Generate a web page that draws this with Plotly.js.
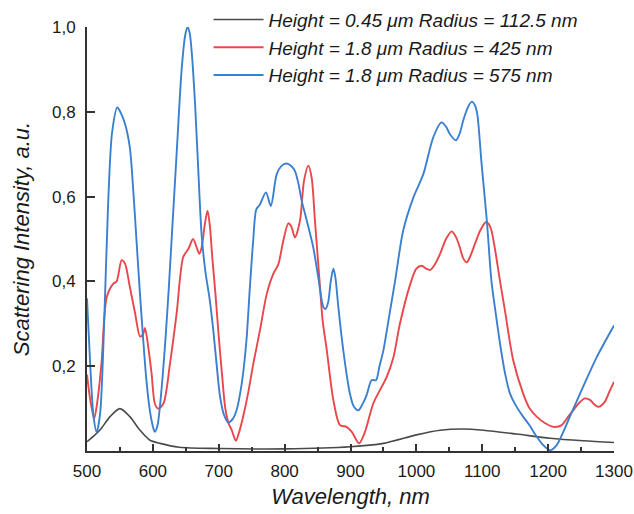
<!DOCTYPE html>
<html>
<head>
<meta charset="utf-8">
<script src="https://cdn.plot.ly/plotly-3.0.1.min.js"></script>
<style>
  html, body { margin: 0; padding: 0; background: #ffffff; }
  #chart { width: 634px; height: 514px; }
</style>
</head>
<body>
<div id="chart"></div>
<script>
// ---- Series names ----
const seriesNames = [
  "Height = 0.45 \u03bcm Radius = 112.5 nm",
  "Height = 1.8 \u03bcm Radius = 425 nm",
  "Height = 1.8 \u03bcm Radius = 575 nm"
];

// ---- Black series: Height 0.45 um, Radius 112.5 nm ----
const wlBlack = [500, 510, 520, 535, 550, 565, 580, 595, 611, 640, 700, 800, 900, 950, 1000, 1036, 1071, 1102, 1152, 1203, 1253, 1300];
const intBlack = [0.022, 0.035, 0.05, 0.081, 0.10, 0.081, 0.05, 0.026, 0.018, 0.009, 0.006, 0.005, 0.01, 0.018, 0.038, 0.049, 0.052, 0.049, 0.04, 0.03, 0.024, 0.02];

// ---- Red series: Height 1.8 um, Radius 425 nm ----
const wlRed = [500, 505, 511, 516, 522, 530, 540, 545, 552.6, 557.7, 565, 573, 580.5, 585, 588, 593, 598, 603, 608, 616, 626, 636, 646, 654, 661, 666.5, 670.5, 674, 679, 683, 686.7, 690, 695, 700, 705, 710, 715, 719.6, 726, 731, 737, 745, 752.5, 762.6, 772.8, 782.8, 790.4, 798, 805.6, 810, 815.7, 823.4, 829.4, 836, 841, 846, 853.7, 857.7, 864, 874, 884, 894, 902, 913, 922, 934.6, 955, 965, 975, 990, 1000, 1008, 1015, 1021, 1028, 1036, 1045, 1053.6, 1060, 1066, 1071, 1076.4, 1082, 1089, 1097, 1105.7, 1110, 1114, 1120, 1127, 1134.6, 1147, 1162, 1172, 1182.6, 1195, 1208, 1220.6, 1230, 1238, 1248, 1256, 1264, 1270, 1276, 1286, 1293, 1300];
const intRed = [0.18, 0.12, 0.077, 0.12, 0.207, 0.363, 0.395, 0.40, 0.45, 0.442, 0.387, 0.325, 0.27, 0.275, 0.29, 0.245, 0.183, 0.112, 0.10, 0.112, 0.206, 0.324, 0.457, 0.477, 0.50, 0.48, 0.465, 0.48, 0.536, 0.567, 0.528, 0.46, 0.37, 0.27, 0.18, 0.10, 0.065, 0.05, 0.024, 0.045, 0.081, 0.14, 0.206, 0.285, 0.37, 0.418, 0.44, 0.496, 0.537, 0.53, 0.504, 0.544, 0.637, 0.673, 0.645, 0.544, 0.387, 0.308, 0.238, 0.12, 0.061, 0.057, 0.045, 0.018, 0.045, 0.112, 0.175, 0.22, 0.30, 0.39, 0.43, 0.437, 0.43, 0.427, 0.44, 0.465, 0.50, 0.518, 0.505, 0.48, 0.455, 0.445, 0.46, 0.489, 0.52, 0.54, 0.535, 0.52, 0.47, 0.40, 0.33, 0.214, 0.136, 0.10, 0.081, 0.066, 0.057, 0.061, 0.08, 0.096, 0.115, 0.124, 0.12, 0.11, 0.104, 0.116, 0.14, 0.163];

// ---- Blue series: Height 1.8 um, Radius 575 nm ----
const wlBlue = [500, 505, 510, 514.7, 520, 526, 532, 538, 546, 552, 558, 565, 570, 575, 580, 585, 590, 595, 600, 603, 607, 611, 618, 624, 628.5, 636, 643.7, 649, 652.8, 656, 659, 664, 669, 674, 680, 686, 691.7, 697, 702, 708, 714.5, 721, 727, 735, 742, 747, 752, 757, 762, 771.7, 779, 788, 795, 803, 810, 815.7, 821, 826, 833.5, 843.5, 851, 858.7, 862, 866, 870, 874, 877, 881.5, 889, 899, 905, 912, 918, 924.5, 932, 938.7, 944, 950, 960, 967.6, 980, 995.5, 1010.5, 1025.7, 1038, 1045, 1051, 1060, 1066, 1071, 1078, 1084, 1089, 1092.5, 1099, 1107, 1114, 1120, 1127, 1135, 1142, 1150, 1162, 1172, 1182.6, 1192, 1203, 1213, 1223, 1233, 1253, 1274, 1300];
const intBlue = [0.36, 0.20, 0.08, 0.045, 0.09, 0.30, 0.58, 0.75, 0.81, 0.795, 0.77, 0.716, 0.62, 0.50, 0.38, 0.27, 0.17, 0.10, 0.058, 0.045, 0.06, 0.11, 0.24, 0.38, 0.50, 0.70, 0.90, 0.98, 1.0, 0.985, 0.94, 0.82, 0.66, 0.51, 0.42, 0.36, 0.285, 0.20, 0.128, 0.085, 0.067, 0.075, 0.096, 0.16, 0.26, 0.38, 0.49, 0.57, 0.58, 0.61, 0.578, 0.653, 0.672, 0.678, 0.672, 0.66, 0.63, 0.59, 0.544, 0.48, 0.41, 0.34, 0.335, 0.35, 0.40, 0.43, 0.41, 0.34, 0.238, 0.136, 0.105, 0.096, 0.11, 0.132, 0.167, 0.167, 0.20, 0.238, 0.33, 0.40, 0.52, 0.598, 0.653, 0.74, 0.775, 0.765, 0.747, 0.733, 0.75, 0.779, 0.81, 0.824, 0.815, 0.794, 0.677, 0.543, 0.40, 0.33, 0.253, 0.18, 0.136, 0.11, 0.081, 0.06, 0.034, 0.015, 0.002, 0.014, 0.045, 0.081, 0.151, 0.222, 0.296];

// ---- Axis ticks ----
const yTickVals = [0.2, 0.4, 0.6, 0.8, 1.0];
const yTickText = ["0,2", "0,4", "0,6", "0,8", "1,0"];
const xTickVals = [500, 600, 700, 800, 900, 1000, 1100, 1200, 1300];
const xTickText = ["500", "600", "700", "800", "900", "1000", "1100", "1200", "1300"];

const colors = ["#4a4a4a", "#e8474b", "#3b80d0"];
const xs = [wlBlack, wlRed, wlBlue];
const ys = [intBlack, intRed, intBlue];

const traces = xs.map((x, i) => ({
  type: "scatter",
  mode: "lines",
  x: x,
  y: ys[i],
  name: seriesNames[i],
  line: { color: colors[i], width: i === 0 ? 1.6 : 1.9, shape: "spline", smoothing: 0.8 }
}));

const FONT = "Arial, 'Liberation Sans', sans-serif";

const layout = {
  width: 634,
  height: 514,
  margin: { l: 87, r: 20, t: 27, b: 63, pad: 0, autoexpand: false },
  paper_bgcolor: "#ffffff",
  plot_bgcolor: "#ffffff",
  font: { family: FONT, color: "#1a1a1a", size: 17 },
  showlegend: true,
  legend: {
    x: 0.2306, y: 1.062, xanchor: "left", yanchor: "top",
    itemwidth: 50,
    bgcolor: "rgba(0,0,0,0)",
    font: { family: FONT, size: 19, style: "italic", color: "#1a1a1a" }
  },
  xaxis: {
    range: [500, 1300],
    tickmode: "array",
    tickvals: xTickVals,
    ticktext: xTickText,
    ticks: "inside",
    ticklen: 7,
    tickwidth: 1.5,
    tickcolor: "#333333",
    ticklabelstandoff: 4,
    minor: { dtick: 50, tick0: 0, ticks: "inside", ticklen: 4, tickwidth: 1.5, tickcolor: "#333333", showgrid: false },
    showline: true,
    linecolor: "#333333",
    linewidth: 2,
    showgrid: false,
    zeroline: false,
    tickfont: { family: FONT, size: 17, color: "#1a1a1a" },
    title: { text: "Wavelength, nm", font: { family: FONT, size: 22, style: "italic", color: "#1a1a1a" }, standoff: 8 }
  },
  yaxis: {
    range: [0, 1.0],
    tickmode: "array",
    tickvals: yTickVals,
    ticktext: yTickText,
    ticks: "inside",
    ticklen: 8,
    tickwidth: 1.5,
    tickcolor: "#333333",
    ticklabelstandoff: 6,
    showline: true,
    linecolor: "#333333",
    linewidth: 2,
    showgrid: false,
    zeroline: false,
    tickfont: { family: FONT, size: 17, color: "#1a1a1a" },
    title: { text: "Scattering Intensity, a.u.", font: { family: FONT, size: 22, style: "italic", color: "#1a1a1a" }, standoff: 16 }
  }
};

Plotly.newPlot("chart", traces, layout, { displayModeBar: false, responsive: false });
</script>
</body>
</html>
